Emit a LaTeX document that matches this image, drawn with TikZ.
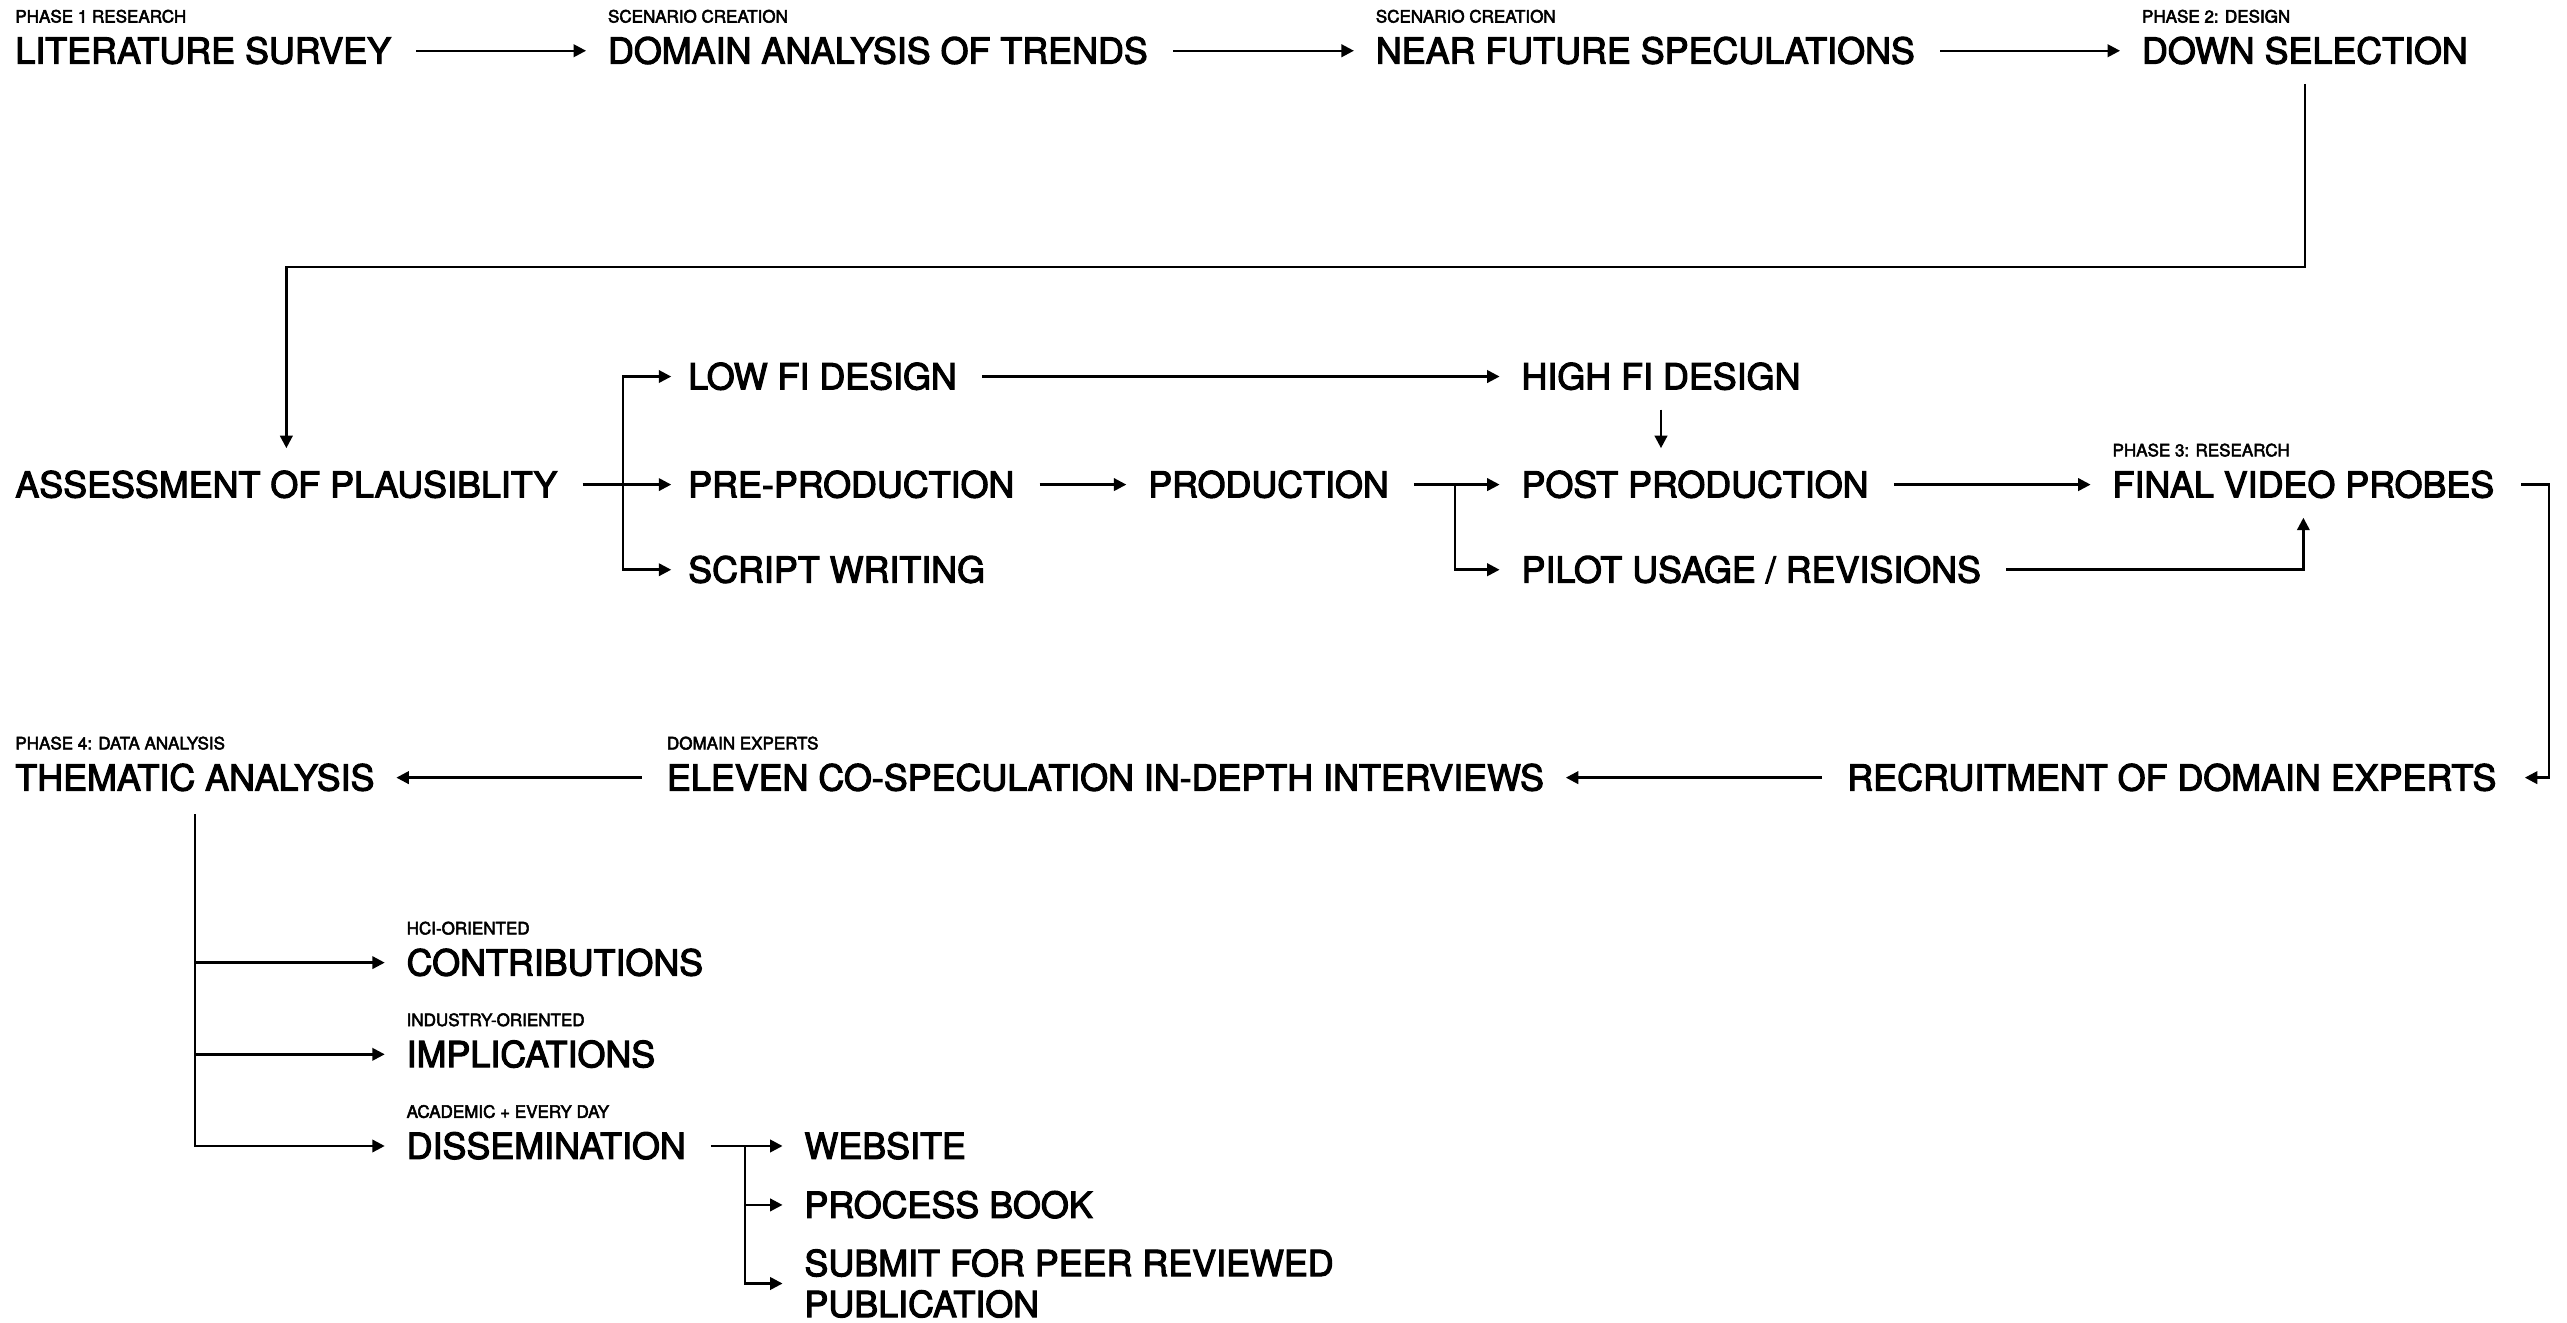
\documentclass[tikz,border=0pt]{standalone}
\usepackage{fontspec}
\setmainfont{TeX Gyre Heros}
\newfontfamily\dgfont[FakeBold=3]{TeX Gyre Heros}
\usetikzlibrary{arrows.meta,calc}
\newcommand\dgBig{\dgfont\fontsize{10.95}{12.5}\selectfont}
\newcommand\dgSmall{\dgfont\fontsize{5.2}{6}\selectfont}
\tikzset{
  big/.style={font=\dgBig, anchor=west, inner sep=0pt, text height=7.85pt, text depth=0pt},
  bigml/.style={font=\dgBig, anchor=west, inner sep=0pt, align=left},
  tag/.style={font=\dgSmall, anchor=south west, inner sep=0pt, text height=3.75pt, text depth=0pt},
  arr/.style={-{Triangle[length=3.8pt,width=3.8pt]}, line width=0.75pt, shorten <=7.5pt, shorten >=6.5pt},
  arrn/.style={arr, shorten >=5pt},
}
\begin{document}
\begin{tikzpicture}[x=0.5pt,y=-0.5pt]
\useasboundingbox (0,0) rectangle (1568,808);
% row 1
\node[big] (lit) at (9,31) {LITERATURE SURVEY};
\node[big] (dom) at (371,31) {DOMAIN ANALYSIS OF TRENDS};
\node[big] (near) at (840,31) {NEAR FUTURE SPECULATIONS};
\node[big] (down) at (1308,31) {DOWN SELECTION};
\node[tag] (litT) at ([yshift=4.3pt]lit.north west) {PHASE 1 RESEARCH};
\node[tag] (domT) at ([yshift=4.3pt]dom.north west) {SCENARIO CREATION};
\node[tag] (nearT) at ([yshift=4.3pt]near.north west) {SCENARIO CREATION};
\node[tag] (downT) at ([yshift=4.3pt]down.north west) {PHASE 2: DESIGN};
% row 2
\node[big] (assess) at (9,296) {ASSESSMENT OF PLAUSIBLITY};
\node[big] (low) at (420,230) {LOW FI DESIGN};
\node[big] (pre) at (420,296) {PRE-PRODUCTION};
\node[big] (script) at (420,348) {SCRIPT WRITING};
\node[big] (high) at (929,230) {HIGH FI DESIGN};
\node[big] (prod) at (701,296) {PRODUCTION};
\node[big] (post) at (929,296) {POST PRODUCTION};
\node[big] (pilot) at (929,348) {PILOT USAGE / REVISIONS};
\node[big] (final) at (1290,296) {FINAL VIDEO PROBES};
\node[tag] (finalT) at ([yshift=4.3pt]final.north west) {PHASE 3: RESEARCH};
% row 3
\node[big] (recruit) at (1128,475) {RECRUITMENT OF DOMAIN EXPERTS};
\node[big] (eleven) at (407,475) {ELEVEN CO-SPECULATION IN-DEPTH INTERVIEWS};
\node[big] (them) at (9,475) {THEMATIC ANALYSIS};
\node[tag] (elevenT) at ([yshift=4.3pt]eleven.north west) {DOMAIN EXPERTS};
\node[tag] (themT) at ([yshift=4.3pt]them.north west) {PHASE 4: DATA ANALYSIS};
% outputs
\node[big] (contrib) at (248,588) {CONTRIBUTIONS};
\node[big] (impl) at (248,644) {IMPLICATIONS};
\node[big] (diss) at (248,700) {DISSEMINATION};
\node[tag] (contribT) at ([yshift=4.3pt]contrib.north west) {HCI-ORIENTED};
\node[tag] (implT) at ([yshift=4.3pt]impl.north west) {INDUSTRY-ORIENTED};
\node[tag] (dissT) at ([yshift=4.3pt]diss.north west) {ACADEMIC + EVERY DAY};
\node[big] (web) at (491,700) {WEBSITE};
\node[big] (book) at (491,736) {PROCESS BOOK};
\node[bigml] (submit) at (491,784) {SUBMIT FOR PEER REVIEWED\\PUBLICATION};
% connectors row 1
\draw[arr] (lit) -- (dom);
\draw[arr] (dom) -- (near);
\draw[arr] (near) -- (down);
\coordinate (t1) at (0,163);
\draw[arr, shorten <=6pt, shorten >=7pt] (down.south) -- (down.south |- t1) -- (assess.north |- t1) -- (assess.north);
% row 2
\coordinate (f1) at ($(assess.east)!0.5!(pre.west)$);
\draw[arrn] (assess) -- (pre);
\draw[arrn, shorten <=0pt] (f1) |- (low.west);
\draw[arrn, shorten <=0pt] (f1) |- (script.west);
\draw[arr] (low) -- (high);
\draw[arr] (pre) -- (prod);
\coordinate (f2) at ($(prod.east)!0.5!(post.west)$);
\draw[arr] (prod) -- (post);
\draw[arr, shorten <=0pt] (f2) |- (pilot.west);
\draw[arr, shorten <=6pt, shorten >=7pt] (high.south) -- (high.south |- post.north);
\draw[arr] (post) -- (final);
\draw[arr, shorten >=6pt] (pilot.east) -| (final.south);
\coordinate (r1) at ([xshift=16.5pt]final.east);
\draw[arr, shorten <=8pt, shorten >=8.5pt] (final.east) -- (r1) |- (recruit.east);
% row 3
\draw[arr] (recruit) -- (eleven);
\draw[arr] (eleven) -- (them);
\draw[arr, shorten <=7pt] (them.south) |- (diss.west);
\draw[arr, shorten <=0pt] (them.south |- contrib.west) -- (contrib.west);
\draw[arr, shorten <=0pt] (them.south |- impl.west) -- (impl.west);
\coordinate (f3) at ($(diss.east)!0.5!(web.west)$);
\draw[arr] (diss) -- (web);
\draw[arr, shorten <=0pt] (f3) |- (book.west);
\draw[arr, shorten <=0pt] (f3) |- (submit.west);
\end{tikzpicture}
\end{document}
